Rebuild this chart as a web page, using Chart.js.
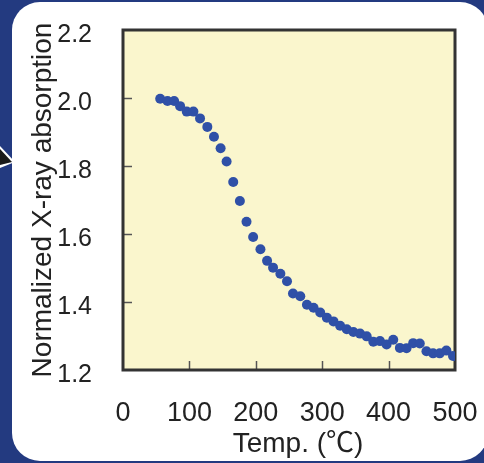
<!DOCTYPE html>
<html>
<head>
<meta charset="utf-8">
<script src="https://cdn.jsdelivr.net/npm/chart.js@4"></script>
<style>
  html, body { margin: 0; padding: 0; }
  body { width: 484px; height: 463px; background: #233a80; position: relative; overflow: hidden; }
  #panel { position: absolute; left: 12px; top: 2px; width: 476px; height: 459px; background: #fff; border-radius: 28px; }
  #arrowOut { position: absolute; left: 0; top: 0; width: 30px; height: 200px; background: #fff;
              clip-path: polygon(0 146px, 15px 162px, 0 168px); }
  #arrow { position: absolute; left: 0; top: 0; width: 30px; height: 200px; background: #1a1a1a;
           clip-path: polygon(0 149px, 12px 162px, 0 165px); }
  #cpuChart { position: absolute; left: 0; top: 0; }
</style>
</head>
<body>
<div id="panel"></div>
<div id="arrowOut"></div>
<div id="arrow"></div>
<canvas id="cpuChart" width="484" height="463"></canvas>
<script>
// temperature (deg C) and absorption
var temps = [56, 67, 77, 86, 96, 106, 116, 127, 137, 147, 156, 166, 176, 186, 196,
             207, 217, 226, 237, 247, 256, 267, 277, 287, 297, 307, 317, 327, 337, 347,
             357, 367, 377, 387, 397, 407, 417, 427, 437, 447, 457, 467, 477, 487, 497];
var absorption = [1.998, 1.991, 1.991, 1.976, 1.960, 1.960, 1.940, 1.915, 1.886, 1.852,
                  1.813, 1.753, 1.697, 1.636, 1.591, 1.555, 1.521, 1.501, 1.483, 1.461,
                  1.425, 1.417, 1.392, 1.383, 1.369, 1.354, 1.343, 1.330, 1.320, 1.312,
                  1.307, 1.299, 1.283, 1.285, 1.275, 1.289, 1.265, 1.264, 1.279, 1.278,
                  1.255, 1.249, 1.249, 1.257, 1.241];
var xTicks = [0, 100, 200, 300, 400, 500];
var yTicks = [1.2, 1.4, 1.6, 1.8, 2.0, 2.2];
var xTitle = 'Temp. (\u2103)';

var fontFam = '"Liberation Sans", "Noto Sans CJK JP", sans-serif';

var pts = temps.map(function (t, i) { return { x: t, y: absorption[i] }; });

// yellow plot box, frame, inner tick marks and the x title
var plotBox = {
    id: 'plotBox',
    beforeDraw: function (chart) {
        var a = chart.chartArea, c = chart.ctx;
        c.save();
        c.fillStyle = '#faf6cd';
        c.fillRect(a.left, a.top, a.right - a.left, a.bottom - a.top);
        c.restore();
    },
    beforeDatasetsDraw: function (chart) {
        var a = chart.chartArea, c = chart.ctx;
        var sx = chart.scales.x, sy = chart.scales.y;
        c.save();
        c.strokeStyle = '#555';
        c.lineWidth = 1.5;
        xTicks.slice(1, -1).forEach(function (v) {
            var px = Math.round(sx.getPixelForValue(v)) + 0.5;
            c.beginPath(); c.moveTo(px, a.bottom); c.lineTo(px, a.bottom - 9); c.stroke();
        });
        yTicks.slice(1, -1).forEach(function (v) {
            var py = Math.round(sy.getPixelForValue(v)) + 0.5;
            c.beginPath(); c.moveTo(a.left, py); c.lineTo(a.left + 9, py); c.stroke();
        });
        c.strokeStyle = '#333';
        c.lineWidth = 3;
        c.strokeRect(a.left, a.top, a.right - a.left, a.bottom - a.top);
        c.restore();
    },
    afterDraw: function (chart) {
        // the title sits a little right of centre in the original
        var a = chart.chartArea, c = chart.ctx;
        c.save();
        c.fillStyle = '#222';
        c.font = '28px ' + fontFam;
        c.textAlign = 'center';
        c.textBaseline = 'alphabetic';
        c.fillText(xTitle, (a.left + a.right) / 2 + 9, a.bottom + 82);
        c.restore();
    }
};

function noPad(s) { s.paddingTop = 0; s.paddingBottom = 0; s.paddingLeft = 0; s.paddingRight = 0; }

const ctx2 = document.getElementById('cpuChart');
const scatterChart = new Chart(ctx2, {
    type: 'scatter',
    data: {
        datasets: [{
            data: pts,
            backgroundColor: '#2f50a7',
            borderWidth: 0,
            pointRadius: 5,
            pointHoverRadius: 5
        }]
    },
    options: {
        responsive: false,
        animation: false,
        layout: { padding: { left: 0, right: 29, top: 30, bottom: 0 } },
        plugins: { legend: { display: false }, tooltip: { enabled: false } },
        scales: {
            x: {
                type: 'linear',
                min: 0,
                max: 500,
                afterBuildTicks: function (s) { s.ticks = xTicks.map(function (v) { return { value: v }; }); },
                afterFit: function (s) { s.height = 93; noPad(s); },
                grid: { display: false, drawTicks: false },
                border: { display: false },
                ticks: { color: '#222', padding: 27, maxRotation: 0, font: { family: fontFam, size: 27 } }
            },
            y: {
                min: 1.2,
                max: 2.2,
                afterBuildTicks: function (s) { s.ticks = yTicks.map(function (v) { return { value: v }; }); },
                afterFit: function (s) { s.width = 123; noPad(s); },
                grid: { display: false, drawTicks: false },
                border: { display: false },
                ticks: {
                    color: '#222',
                    padding: 31,
                    labelOffset: 5,
                    font: { family: fontFam, size: 25 },
                    callback: function (v) { return v.toFixed(1); }
                },
                title: {
                    display: true,
                    text: 'Normalized X-ray absorption',
                    color: '#222',
                    padding: { top: 26, bottom: 0 },
                    font: { family: fontFam, size: 28 }
                }
            }
        }
    },
    plugins: [plotBox]
});
</script>
</body>
</html>
